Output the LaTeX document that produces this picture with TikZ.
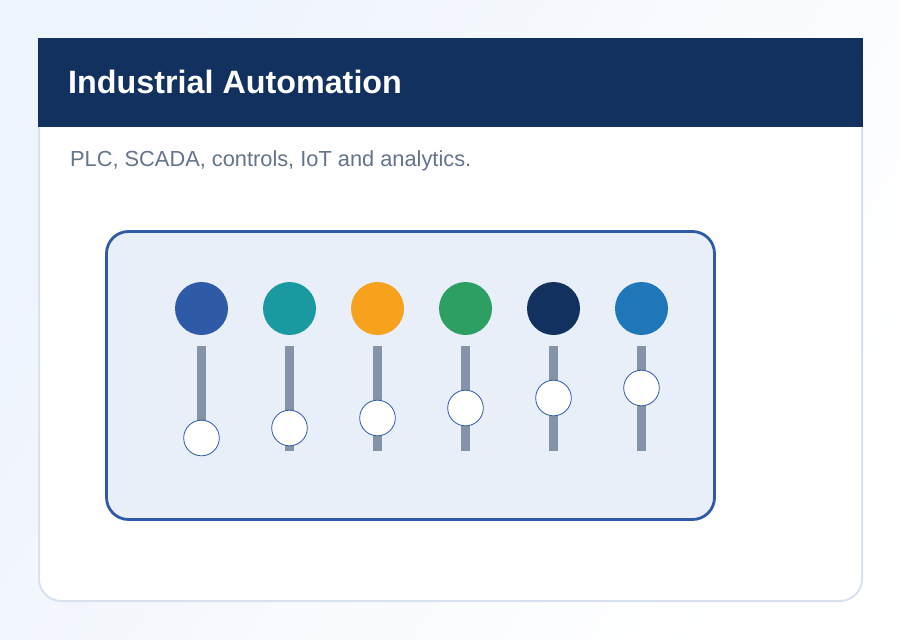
\documentclass[tikz,border=0pt]{standalone}
\usepackage{fontspec}
\setmainfont{Liberation Sans}
\definecolor{navy}{HTML}{12315E}
\definecolor{panelblue}{HTML}{2F5AA8}
\definecolor{panelfill}{HTML}{E8EFF9}
\definecolor{cardline}{HTML}{D8E2EF}
\definecolor{subtext}{HTML}{64748B}
\definecolor{trackgray}{HTML}{8593A9}
\definecolor{teal}{HTML}{1A9AA0}
\definecolor{amber}{HTML}{F7A21C}
\definecolor{leaf}{HTML}{2E9F63}
\definecolor{skyblue}{HTML}{1F76B8}
\definecolor{bgstart}{HTML}{EEF4FC}
\definecolor{bgend}{HTML}{FFFFFF}

\begin{document}
\begin{tikzpicture}[
    x=1pt, y=-1pt,
    % Define styles for consistent formatting
    card/.style={fill=white, draw=cardline, line width=2pt, rounded corners=22pt},
    header/.style={fill=navy},
    panel/.style={fill=panelfill, draw=panelblue, line width=2.8pt, rounded corners=22pt},
    titletext/.style={font=\fontsize{32.3}{38}\selectfont\bfseries, text=white, anchor=base west, inner sep=0pt},
    subtitletext/.style={font=\fontsize{21.8}{26}\selectfont, text=subtext, anchor=base west, inner sep=0pt},
    lamp/.style={circle, fill=#1, minimum size=53pt, inner sep=0pt},
    track/.style={fill=trackgray},
    knob/.style={circle, fill=white, draw=panelblue, line width=0.8pt, minimum size=35.6pt, inner sep=0pt}
]

% Define coordinates for better maintainability
\newcommand{\firstx}{201.5}
\newcommand{\stepx}{88}
\newcommand{\lampy}{308.5}
\newcommand{\tracktop}{346}
\newcommand{\trackbottom}{451}
\newcommand{\trackhalf}{4.5}

\useasboundingbox (0,0) rectangle (900,640);

% Page background
\shade [shading=axis, left color=bgstart, right color=bgend, shading angle=57] (0,0) rectangle (900,640);

% Card and header
\draw [card] (39,39) rectangle (862,601);
\fill [header] (38,38) rectangle (863,127);
\node [titletext] (title) at (68,93) {Industrial Automation};
\node [subtitletext] (subtitle) at (70,166) {PLC, SCADA, controls, IoT and analytics.};

% Main panel
\draw [panel] (106.5,231.5) rectangle (714.5,519.5);

% Lamps, tracks and knobs
\foreach \i/\col/\knoby in {
    0/panelblue/438, 1/teal/428, 2/amber/418, 3/leaf/408, 4/navy/398, 5/skyblue/388
} {
    \node [lamp=\col] (lamp\i) at (\firstx+\i*\stepx,\lampy) {};
    \fill [track] (\firstx+\i*\stepx-\trackhalf,\tracktop) rectangle (\firstx+\i*\stepx+\trackhalf,\trackbottom);
    \node [knob] (knob\i) at (\firstx+\i*\stepx,\knoby) {};
}

\end{tikzpicture}
\end{document}
